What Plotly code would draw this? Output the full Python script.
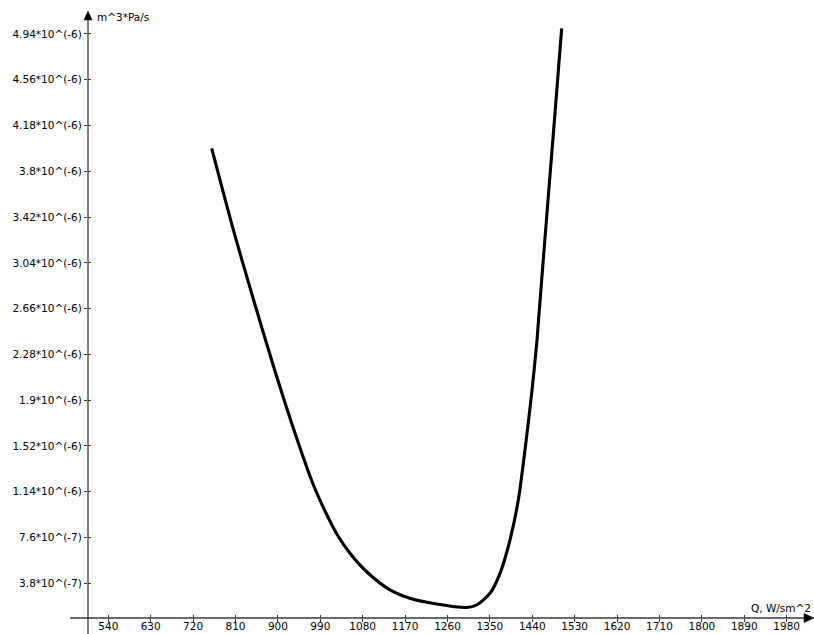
import plotly.graph_objects as go

# Data (x: Q, W/sm^2 ; y: m^3*Pa/s)
q_values = [759.5, 805, 847.8, 890, 936, 975, 1000, 1025, 1053, 1088.5, 1138,
            1180, 1237, 1301, 1322, 1350.2, 1371.5, 1392.7, 1410.3, 1424.5,
            1438.7, 1449.4, 1453.8, 1464.4, 1475.7, 1485.9, 1495.4, 1502.4]
flow_e6 = [3.99, 3.32, 2.74, 2.19, 1.63, 1.20, 0.98, 0.79, 0.63, 0.476, 0.325,
           0.256, 0.208, 0.179, 0.200, 0.297, 0.463, 0.740, 1.072, 1.487,
           1.957, 2.372, 2.593, 3.119, 3.672, 4.170, 4.641, 4.987]
flow = [v * 1e-6 for v in flow_e6]

x_tickvals = [540, 630, 720, 810, 900, 990, 1080, 1170, 1260, 1350, 1440, 1530,
              1620, 1710, 1800, 1890, 1980]
y_tickvals = [3.8e-7, 7.6e-7, 1.14e-6, 1.52e-6, 1.9e-6, 2.28e-6, 2.66e-6,
              3.04e-6, 3.42e-6, 3.8e-6, 4.18e-6, 4.56e-6, 4.94e-6]
y_ticktext = ["3.8*10^(-7)", "7.6*10^(-7)", "1.14*10^(-6)", "1.52*10^(-6)",
              "1.9*10^(-6)", "2.28*10^(-6)", "2.66*10^(-6)", "3.04*10^(-6)",
              "3.42*10^(-6)", "3.8*10^(-6)", "4.18*10^(-6)", "4.56*10^(-6)",
              "4.94*10^(-6)"]

W, H = 814, 634
ml, mr, mt, mb = 88, 0, 12, 16
pw, ph = W - ml - mr, H - mt - mb
x_range = [496.9, 2038]
y_range = [0.0921e-6, 5.1223e-6]
axis_color = "#3a3a3a"
font = dict(family="DejaVu Sans, Arial, sans-serif", size=10.5, color="#000")

fig = go.Figure()
fig.add_trace(go.Scatter(x=q_values, y=flow, mode="lines",
                         line=dict(color="#000", width=3.1, shape="spline", smoothing=0.8),
                         hoverinfo="skip", showlegend=False))
# dummy traces for overlay axes (tick marks crossing the axis)
fig.add_trace(go.Scatter(x=[None], y=[None], xaxis="x2", yaxis="y2", showlegend=False))
fig.add_trace(go.Scatter(x=[None], y=[None], xaxis="x3", yaxis="y2", showlegend=False))


def px_x(p):
    return (p - ml) / pw


def px_y(p):
    return (H - mb - p) / ph


shapes = [
    dict(type="line", xref="paper", yref="paper", x0=px_x(70), x1=px_x(806),
         y0=0, y1=0, line=dict(color=axis_color, width=1.3)),
    dict(type="line", xref="paper", yref="paper", x0=0, x1=0,
         y0=px_y(634), y1=px_y(20), line=dict(color=axis_color, width=1.3)),
    dict(type="path", xref="paper", yref="paper",
         path=f"M {px_x(814)} 0 L {px_x(804)} {4.5/ph} L {px_x(804)} {-4.5/ph} Z",
         fillcolor="#000", line=dict(color="#000", width=0.5)),
    dict(type="path", xref="paper", yref="paper",
         path=f"M 0 {px_y(11)} L {4/pw} {px_y(20)} L {-4/pw} {px_y(20)} Z",
         fillcolor="#000", line=dict(color="#000", width=0.5)),
]

annotations = [
    dict(text="m^3*Pa/s", xref="paper", yref="paper", x=px_x(95), y=px_y(17),
         xanchor="left", yanchor="middle", showarrow=False, font=font),
    dict(text="Q, W/sm^2", xref="paper", yref="paper", x=px_x(813), y=px_y(608),
         xanchor="right", yanchor="middle", showarrow=False, font=font),
]

fig.update_layout(
    width=W, height=H,
    margin=dict(l=ml, r=mr, t=mt, b=mb, autoexpand=False),
    paper_bgcolor="white", plot_bgcolor="white",
    font=font,
    shapes=shapes, annotations=annotations,
    xaxis=dict(range=x_range, tickvals=x_tickvals, ticks="",
               showgrid=False, zeroline=False, showline=False,
               tickfont=font, automargin=False, fixedrange=True),
    yaxis=dict(range=y_range, tickvals=y_tickvals, ticktext=y_ticktext,
               ticks="outside", ticklen=3, tickcolor=axis_color, showgrid=False,
               zeroline=False, showline=False, tickfont=font, automargin=False,
               fixedrange=True),
    xaxis2=dict(range=x_range, tickvals=x_tickvals, ticks="inside", ticklen=3,
                tickcolor=axis_color, showticklabels=False, showgrid=False,
                zeroline=False, overlaying="x", anchor="y", side="bottom",
                fixedrange=True),
    xaxis3=dict(range=x_range, tickvals=x_tickvals, ticks="outside", ticklen=3,
                tickcolor=axis_color, showticklabels=False, showgrid=False,
                zeroline=False, overlaying="x", anchor="y", side="bottom",
                fixedrange=True),
    yaxis2=dict(range=y_range, tickvals=y_tickvals, ticks="inside", ticklen=3,
                tickcolor=axis_color, showticklabels=False, showgrid=False,
                zeroline=False, overlaying="y", anchor="x", side="left",
                fixedrange=True),
)

fig.write_html("out.html", config={"displayModeBar": False},
               post_script="document.body.style.margin='0px';document.body.style.overflow='hidden';")
